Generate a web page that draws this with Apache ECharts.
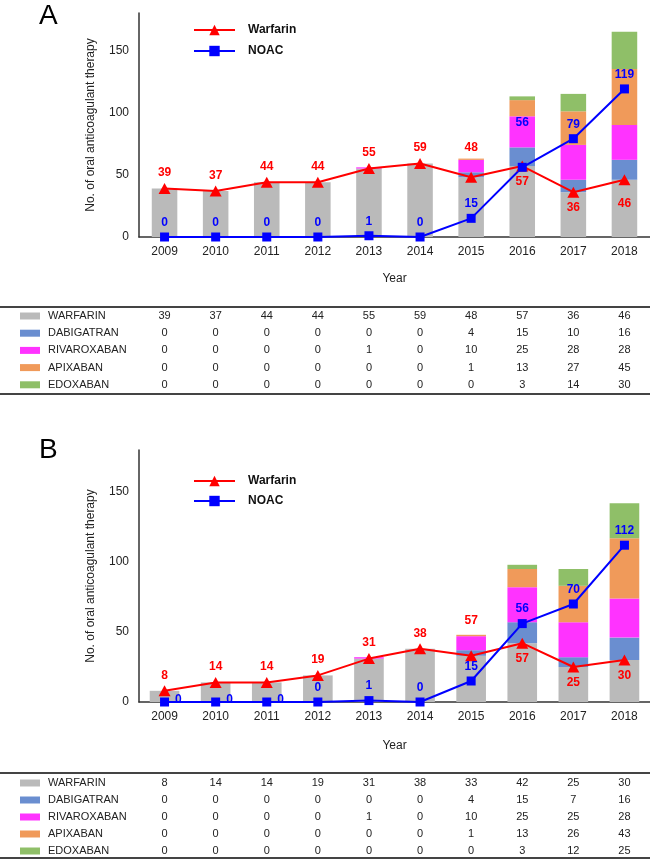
<!DOCTYPE html>
<html>
<head>
<meta charset="utf-8">
<script src="https://cdn.jsdelivr.net/npm/echarts@6/dist/echarts.min.js"></script>
<style>
html,body{margin:0;padding:0;background:#fff;}
#c{width:650px;height:861px;}
</style>
</head>
<body>
<div id="c"></div>
<script>
const years = ['2009','2010','2011','2012','2013','2014','2015','2016','2017','2018'];
const yTicks = [0, 50, 100, 150];

// Panel A
const warfarinA    = [39,37,44,44,55,59,48,57,36,46];
const dabigatranA  = [0,0,0,0,0,0,4,15,10,16];
const rivaroxabanA = [0,0,0,0,1,0,10,25,28,28];
const apixabanA    = [0,0,0,0,0,0,1,13,27,45];
const edoxabanA    = [0,0,0,0,0,0,0,3,14,30];
const noacA        = [0,0,0,0,1,0,15,56,79,119];
const warfarinLabelsA = ['39','37','44','44','55','59','48','57','36','46'];
const noacLabelsA     = ['0','0','0','0','1','0','15','56','79','119'];

// Panel B
const warfarinB    = [8,14,14,19,31,38,33,42,25,30];
const dabigatranB  = [0,0,0,0,0,0,4,15,7,16];
const rivaroxabanB = [0,0,0,0,1,0,10,25,25,28];
const apixabanB    = [0,0,0,0,0,0,1,13,26,43];
const edoxabanB    = [0,0,0,0,0,0,0,3,12,25];
const noacB        = [0,0,0,0,1,0,15,56,70,112];
const warfarinLabelsB = ['8','14','14','19','31','38','57','57','25','30'];
const noacLabelsB     = ['0','0','0','0','1','0','15','56','70','112'];

const drugNames = ['WARFARIN','DABIGATRAN','RIVAROXABAN','APIXABAN','EDOXABAN'];
const drugColors = ['#bababa','#6a8ed0','#ff33ff','#f09a5a','#8fbf68'];

const FONT = 'Liberation Sans, Arial, sans-serif';

const tablesA = [warfarinA, dabigatranA, rivaroxabanA, apixabanA, edoxabanA];
const tablesB = [warfarinB, dabigatranB, rivaroxabanB, apixabanB, edoxabanB];

function lineItems(values, labels, placer) {
  return values.map((v, i) => {
    const p = placer(i);
    return {value: v, label: {position: p.pos, offset: p.off || [0,0], formatter: labels[i]}};
  });
}

function barSeries(tables, idx, stack, width) {
  return tables.map((arr, k) => ({
    type: 'bar', name: drugNames[k], stack: stack,
    xAxisIndex: idx, yAxisIndex: idx,
    barWidth: width, data: arr,
    itemStyle: {color: drugColors[k]},
    emphasis: {disabled: true}, z: 2
  }));
}

function lineSeries(name, idx, items, color, symbol, size) {
  return {
    type: 'line', name: name, xAxisIndex: idx, yAxisIndex: idx,
    data: items, symbol: symbol, symbolSize: size,
    lineStyle: {color: color, width: 2},
    itemStyle: {color: color},
    label: {show: true, color: color, fontWeight: 'bold', fontSize: 12, fontFamily: FONT, distance: 4},
    z: 5, emphasis: {disabled: true}
  };
}

const wA = lineItems(warfarinA, warfarinLabelsA, i => i <= 5 ? {pos:'top'} : i === 6 ? {pos:'top', off:[0,-14]} : i === 9 ? {pos:'bottom', off:[0,8]} : {pos:'bottom'});
const nA = lineItems(noacA, noacLabelsA, i => i === 7 ? {pos:'top', off:[0,-30]} : {pos:'top'});
const wB = lineItems(warfarinB, warfarinLabelsB, i => i <= 5 ? {pos:'top'} : i === 6 ? {pos:'top', off:[0,-20]} : {pos:'bottom'});
const nB = lineItems(noacB, noacLabelsB, i => i <= 2 ? {pos:'right', off:[2,-2]} : {pos:'top'});

function xAxis(idx, gap) {
  return {
    type: 'category', gridIndex: idx, data: years, boundaryGap: true,
    axisLine: {lineStyle: {color: '#333', width: 1.5}},
    axisTick: {show: false},
    axisLabel: {color: '#222', fontSize: 12, fontFamily: FONT, margin: 9},
    name: 'Year', nameLocation: 'middle', nameGap: gap,
    nameTextStyle: {color: '#222', fontSize: 12, fontFamily: FONT}
  };
}
function yAxis(idx) {
  return {
    type: 'value', gridIndex: idx, min: 0, max: 180, interval: 50,
    splitLine: {show: false},
    axisLine: {show: true, lineStyle: {color: '#333', width: 1.5}},
    axisTick: {show: false},
    axisLabel: {color: '#222', fontSize: 12, fontFamily: FONT, margin: 10, showMaxLabel: false,
      formatter: v => yTicks.indexOf(v) >= 0 ? String(v) : ''},
    name: 'No. of oral anticoagulant therapy', nameLocation: 'middle', nameGap: 42,
    nameTextStyle: {color: '#222', fontSize: 12, fontFamily: FONT}
  };
}

function legend(top, gap) {
  return {
    data: ['Warfarin','NOAC'], orient: 'vertical', left: 188, top: top,
    itemWidth: 41, itemHeight: 13, itemGap: gap, selectedMode: false,
    textStyle: {color: '#111', fontWeight: 'bold', fontSize: 12, fontFamily: FONT, padding: [0,0,0,8]}
  };
}

const chart = echarts.init(document.getElementById('c'), null, {renderer: 'canvas'});
const option = {
  animation: false,
  backgroundColor: '#fff',
  grid: [
    {left: 139, right: 0, top: 13, height: 224},
    {left: 139, right: 0, top: 450, height: 252}
  ],
  xAxis: [xAxis(0, 36), xAxis(1, 38)],
  yAxis: [yAxis(0), yAxis(1)],
  legend: [legend(19, 9), legend(470, 8)],
  series: [
    ...barSeries(tablesA, 0, 'A', '50%'),
    lineSeries('Warfarin', 0, wA, '#ff0000', 'triangle', [12, 11]),
    lineSeries('NOAC', 0, nA, '#0000ff', 'rect', 9),
    ...barSeries(tablesB, 1, 'B', '58%'),
    lineSeries('Warfarin', 1, wB, '#ff0000', 'triangle', [12, 11]),
    lineSeries('NOAC', 1, nB, '#0000ff', 'rect', 9)
  ]
};
chart.setOption(option);

function tableGraphics(tables, idx, topLine, bottomLine, firstRow, rowGap) {
  const els = [];
  els.push({type:'line', shape:{x1:0,y1:topLine,x2:650,y2:topLine}, style:{stroke:'#444', lineWidth:2}});
  els.push({type:'line', shape:{x1:0,y1:bottomLine,x2:650,y2:bottomLine}, style:{stroke:'#444', lineWidth:2}});
  tables.forEach((arr, k) => {
    const y = firstRow + k * rowGap;
    els.push({type:'rect', shape:{x:20, y:y-3.5, width:20, height:7}, style:{fill: drugColors[k]}});
    els.push({type:'text', x:48, y:y, style:{text: drugNames[k], fill:'#222', font:'11px ' + FONT, textVerticalAlign:'middle', textAlign:'left'}});
    arr.forEach((v, i) => {
      const px = chart.convertToPixel({xAxisIndex: idx}, i);
      els.push({type:'text', x:px, y:y, style:{text:String(v), fill:'#222', font:'11px ' + FONT, textAlign:'center', textVerticalAlign:'middle'}});
    });
  });
  return els;
}

const graphics = [
  {type:'text', x:39, y:2, style:{text:'A', fill:'#000', font:'28px ' + FONT}},
  {type:'text', x:39, y:436, style:{text:'B', fill:'#000', font:'28px ' + FONT}},
  ...tableGraphics(tablesA, 0, 307, 394, 316, 17.2),
  ...tableGraphics(tablesB, 1, 773, 858, 783, 17)
];
chart.setOption({graphic: graphics});
</script>
</body>
</html>
